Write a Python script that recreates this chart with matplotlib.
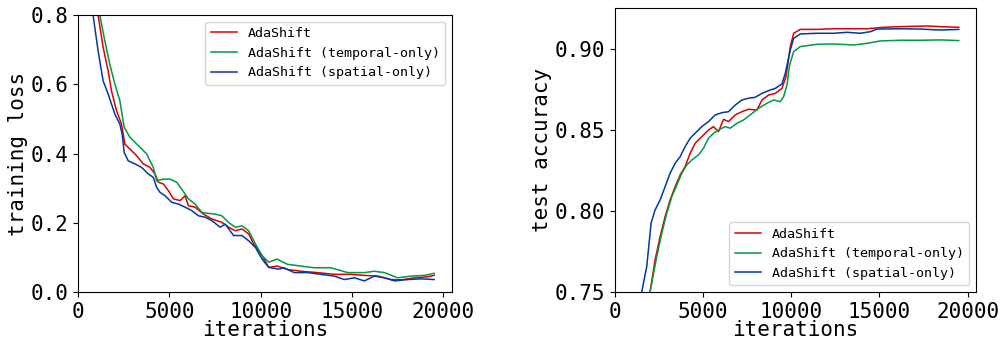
import matplotlib
matplotlib.use("Agg")
import matplotlib.pyplot as plt

plt.rcParams['font.family'] = ['DejaVu Sans Mono']

# ---- training loss data ----
loss_x_blue = [0, 824, 1099, 1374, 1649, 2015, 2290, 2418, 2528, 2748, 3114, 3481, 3847, 4122, 4305, 4488, 4763,
               5130, 5496, 5862, 6229, 6595, 6962, 7328, 7786, 8061, 8519, 8977, 9343, 9710, 10076, 10442, 10992,
               11282, 11832, 12564, 13297, 14029, 14579, 15128, 15678, 16227, 16777, 17326, 18059, 18791, 19500]
loss_blue = [2.3, 0.80, 0.697, 0.610, 0.572, 0.514, 0.485, 0.456, 0.403, 0.379, 0.370, 0.360, 0.341, 0.331, 0.302,
             0.288, 0.278, 0.259, 0.254, 0.245, 0.235, 0.220, 0.216, 0.206, 0.187, 0.196, 0.163, 0.163, 0.148,
             0.129, 0.095, 0.071, 0.066, 0.070, 0.056, 0.056, 0.051, 0.046, 0.036, 0.041, 0.032, 0.046, 0.041,
             0.032, 0.036, 0.038, 0.036]

loss_x_red = [0, 1099, 1374, 1649, 1832, 2107, 2382, 2565, 2839, 3206, 3572, 3939, 4213, 4397, 4671, 4946, 5221,
              5587, 5862, 6046, 6412, 6870, 7328, 7878, 8244, 8610, 8977, 9343, 9618, 10076, 10442, 10916, 11465,
              12198, 13114, 14029, 14945, 15678, 16410, 17143, 17692, 18425, 19158, 19500]
loss_red = [2.3, 0.80, 0.707, 0.639, 0.581, 0.524, 0.485, 0.427, 0.413, 0.394, 0.370, 0.360, 0.341, 0.317, 0.312,
            0.293, 0.269, 0.264, 0.278, 0.249, 0.245, 0.225, 0.211, 0.201, 0.187, 0.177, 0.182, 0.168, 0.139,
            0.105, 0.071, 0.075, 0.065, 0.060, 0.056, 0.051, 0.051, 0.048, 0.046, 0.036, 0.035, 0.041, 0.044, 0.048]

loss_x_green = [0, 1191, 1466, 1740, 2015, 2290, 2528, 2839, 3298, 3756, 4122, 4305, 4671, 5038, 5404, 5679, 6046,
                6412, 6778, 7145, 7511, 7878, 8244, 8610, 8977, 9343, 9710, 10076, 10442, 10900, 11465, 12198,
                12930, 13846, 14762, 15678, 16227, 16777, 17509, 18242, 18974, 19500]
loss_green = [2.3, 0.80, 0.726, 0.658, 0.601, 0.553, 0.476, 0.447, 0.423, 0.399, 0.360, 0.321, 0.326, 0.326, 0.317,
              0.297, 0.269, 0.254, 0.230, 0.227, 0.225, 0.220, 0.201, 0.187, 0.191, 0.177, 0.139, 0.105, 0.086,
              0.095, 0.080, 0.075, 0.070, 0.070, 0.056, 0.056, 0.060, 0.056, 0.041, 0.046, 0.048, 0.054]

# ---- test accuracy data ----
acc_x_blue = [0, 1515, 1799, 2046, 2273, 2557, 2841, 3125, 3409, 3693, 3977, 4261, 4545, 4924, 5303, 5682, 6061,
              6440, 6818, 7197, 7576, 7955, 8334, 8712, 9091, 9470, 9659, 9943, 10133, 10511, 11458, 12405,
              13163, 13920, 14489, 14867, 16193, 17330, 18466, 19500]
acc_blue = [0.10, 0.75, 0.7656, 0.7924, 0.8006, 0.8068, 0.8150, 0.8233, 0.8294, 0.8335, 0.8397, 0.8449, 0.8480,
            0.8521, 0.8552, 0.8593, 0.8607, 0.8613, 0.8654, 0.8685, 0.8696, 0.8702, 0.8726, 0.8743, 0.8757,
            0.8784, 0.8850, 0.8994, 0.9066, 0.9093, 0.9097, 0.9097, 0.9103, 0.9097, 0.9107, 0.9123, 0.9125,
            0.9123, 0.9117, 0.9121]

acc_x_red = [0, 1989, 2273, 2557, 2841, 3125, 3409, 3693, 3977, 4261, 4545, 4924, 5303, 5587, 5871, 6156, 6440,
             6818, 7197, 7576, 8050, 8334, 8712, 9091, 9470, 9700, 9943, 10133, 10511, 11458, 12405, 13352,
             14299, 15246, 16193, 17708, 18466, 19500]
acc_red = [0.10, 0.75, 0.7698, 0.7841, 0.7965, 0.8068, 0.8150, 0.8222, 0.8274, 0.8356, 0.8418, 0.8459, 0.8500,
           0.8521, 0.8490, 0.8566, 0.8552, 0.8593, 0.8613, 0.8628, 0.8623, 0.8685, 0.8716, 0.8726, 0.8757,
           0.8830, 0.9015, 0.9097, 0.9121, 0.9121, 0.9125, 0.9125, 0.9125, 0.9134, 0.9138, 0.9142, 0.9138, 0.9134]

acc_x_green = [0, 1989, 2368, 2652, 2936, 3220, 3504, 3788, 4072, 4356, 4735, 5019, 5303, 5587, 5871, 6250, 6534,
               6913, 7292, 7671, 8144, 8618, 8997, 9375, 9564, 9754, 9900, 10133, 10511, 11458, 12405, 13542,
               14299, 15057, 16193, 17330, 18466, 19500]
acc_green = [0.10, 0.75, 0.7718, 0.7862, 0.7986, 0.8088, 0.8160, 0.8233, 0.8284, 0.8315, 0.8346, 0.8387, 0.8449,
             0.8480, 0.8500, 0.8521, 0.8511, 0.8541, 0.8562, 0.8593, 0.8634, 0.8665, 0.8685, 0.8675, 0.8706,
             0.8778, 0.8900, 0.8984, 0.9015, 0.9029, 0.9031, 0.9025, 0.9035, 0.9050, 0.9054, 0.9054, 0.9056, 0.9052]

labels = ['AdaShift', 'AdaShift (temporal-only)', 'AdaShift (spatial-only)']
c_red, c_green, c_blue = '#dd0000', '#009944', '#0038a8'

fig = plt.figure(figsize=(10, 3.41), dpi=100)
ax1 = fig.add_axes([0.078, 0.1437, 0.374, 0.8123])
ax2 = fig.add_axes([0.615, 0.1437, 0.361, 0.8328])

lw = 1.1
ax1.plot(loss_x_red, loss_red, color=c_red, lw=lw, label=labels[0])
ax1.plot(loss_x_green, loss_green, color=c_green, lw=lw, label=labels[1])
ax1.plot(loss_x_blue, loss_blue, color=c_blue, lw=lw, label=labels[2])
ax1.set_xlim(0, 20475)
ax1.set_ylim(0, 0.8)
ax1.set_xticks([0, 5000, 10000, 15000, 20000])
ax1.set_yticks([0.0, 0.2, 0.4, 0.6, 0.8])
ax1.set_xlabel('iterations', fontsize=15, labelpad=-1)
ax1.set_ylabel('training loss', fontsize=15, labelpad=2)
ax1.tick_params(labelsize=15)
ax1.legend(loc='upper right', fontsize=9.6)

ax2.plot(acc_x_red, acc_red, color=c_red, lw=lw, label=labels[0])
ax2.plot(acc_x_green, acc_green, color=c_green, lw=lw, label=labels[1])
ax2.plot(acc_x_blue, acc_blue, color=c_blue, lw=lw, label=labels[2])
ax2.set_xlim(0, 20475)
ax2.set_ylim(0.75, 0.9253)
ax2.set_xticks([0, 5000, 10000, 15000, 20000])
ax2.set_yticks([0.75, 0.80, 0.85, 0.90])
ax2.set_xlabel('iterations', fontsize=15, labelpad=-1)
ax2.set_ylabel('test accuracy', fontsize=15, labelpad=2)
ax2.tick_params(labelsize=15)
ax2.legend(loc='lower right', fontsize=9.6)

fig.savefig('out.png', dpi=100)
